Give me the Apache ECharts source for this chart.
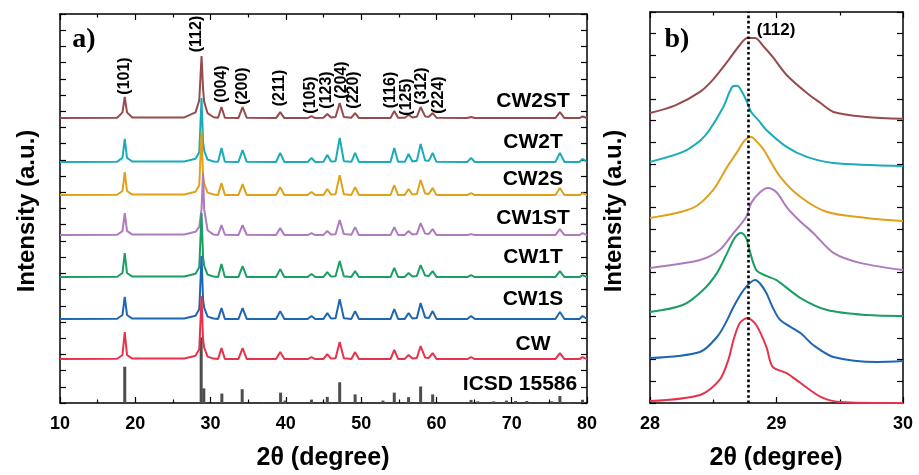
<!DOCTYPE html>
<html><head><meta charset="utf-8">
<script src="https://cdn.jsdelivr.net/npm/echarts@6/dist/echarts.min.js"></script>
<style>html,body{margin:0;padding:0;background:#fff}#c{width:919px;height:475px}</style>
</head><body><div id="c"></div>
<script>
// ---------- data: panel a (full pattern, offset traces in a.u.) ----------
const twoTheta = [10, 17.6, 18.3, 18.6, 18.9, 19.6,
  26.5, 28.0, 28.5, 28.8, 29.0, 29.15, 29.6, 30.4,
  31.0, 31.45, 31.9, 33.7, 34.25, 34.8, 38.7, 39.25, 39.8,
  42.9, 43.4, 43.9, 45.0, 45.5, 46.0, 46.6, 47.15, 47.7,
  48.7, 49.2, 49.7, 53.9, 54.4, 54.9, 55.8, 56.3, 56.8,
  57.4, 57.9, 58.5, 59.0, 59.5, 60.0, 64.1, 64.6, 65.1,
  75.8, 76.4, 77.0, 79.0, 79.4, 80];

const cw2st = [17.58, 17.60, 17.93, 18.88, 17.93, 17.62,
  17.62, 17.93, 18.68, 21.40, 19.40, 18.58, 17.88, 17.63,
  17.60, 18.26, 17.60, 17.58, 18.26, 17.60, 17.58, 17.95, 17.58,
  17.58, 17.70, 17.58, 17.60, 17.83, 17.62, 17.64, 18.51, 17.64,
  17.60, 17.89, 17.58, 17.58, 18.01, 17.60, 17.60, 17.77, 17.62,
  17.66, 18.26, 17.68, 17.66, 17.89, 17.60, 17.58, 17.64, 17.58,
  17.58, 17.95, 17.58, 17.58, 17.68, 17.58];
const cw2t = [14.87, 14.89, 15.12, 16.29, 15.12, 14.90,
  14.90, 15.07, 15.47, 18.82, 16.10, 15.57, 15.02, 14.90,
  14.88, 15.73, 14.88, 14.87, 15.61, 14.88, 14.87, 15.43, 14.87,
  14.87, 15.12, 14.87, 14.88, 15.31, 14.90, 14.92, 16.35, 14.92,
  14.88, 15.43, 14.87, 14.87, 15.73, 14.88, 14.88, 15.37, 14.90,
  14.94, 15.98, 14.96, 14.94, 15.43, 14.88, 14.87, 15.12, 14.87,
  14.87, 15.43, 14.87, 14.87, 15.06, 14.87];
const cw2s = [12.83, 12.85, 13.08, 14.25, 13.08, 12.86,
  12.86, 13.03, 13.43, 16.72, 14.00, 13.53, 12.98, 12.86,
  12.84, 13.57, 12.84, 12.83, 13.51, 12.84, 12.83, 13.32, 12.83,
  12.83, 13.02, 12.83, 12.84, 13.20, 12.86, 12.88, 14.06, 12.88,
  12.84, 13.32, 12.83, 12.83, 13.45, 12.84, 12.84, 13.20, 12.86,
  12.90, 13.76, 12.92, 12.90, 13.26, 12.84, 12.83, 12.95, 12.83,
  12.83, 13.26, 12.83, 12.83, 12.95, 12.83];
const cw1st = [10.36, 10.38, 10.60, 11.72, 10.62, 10.39,
  10.39, 10.56, 10.86, 11.96, 14.18, 11.96, 10.66, 10.39,
  10.37, 10.98, 10.38, 10.36, 10.98, 10.38, 10.36, 10.79, 10.37,
  10.36, 10.48, 10.36, 10.37, 10.61, 10.39, 10.41, 11.29, 10.42,
  10.38, 10.85, 10.36, 10.36, 10.85, 10.37, 10.37, 10.61, 10.39,
  10.43, 11.10, 10.45, 10.43, 10.73, 10.37, 10.36, 10.42, 10.36,
  10.36, 10.73, 10.36, 10.36, 10.48, 10.36];
const cw1t = [7.77, 7.79, 8.02, 9.25, 8.02, 7.80,
  7.80, 7.97, 8.37, 11.72, 9.00, 8.47, 7.92, 7.80,
  7.78, 8.57, 7.78, 7.77, 8.45, 7.78, 7.77, 8.26, 7.77,
  7.77, 7.96, 7.77, 7.78, 8.08, 7.80, 7.82, 8.76, 7.82,
  7.78, 8.14, 7.77, 7.77, 8.33, 7.78, 7.78, 8.02, 7.80,
  7.84, 8.51, 7.86, 7.84, 8.14, 7.78, 7.77, 7.89, 7.77,
  7.77, 8.14, 7.77, 7.77, 7.89, 7.77];
const cw1s = [5.18, 5.20, 5.43, 6.54, 5.43, 5.21,
  5.21, 5.38, 5.78, 9.07, 6.40, 5.88, 5.33, 5.21,
  5.19, 5.86, 5.19, 5.18, 5.86, 5.19, 5.18, 5.67, 5.18,
  5.18, 5.37, 5.18, 5.19, 5.55, 5.21, 5.23, 6.41, 5.23,
  5.19, 5.67, 5.18, 5.18, 5.80, 5.19, 5.19, 5.55, 5.21,
  5.25, 6.17, 5.27, 5.25, 5.67, 5.19, 5.18, 5.37, 5.18,
  5.18, 5.61, 5.18, 5.18, 5.37, 5.18];
const cw = [2.71, 2.73, 2.96, 4.38, 2.96, 2.74,
  2.74, 2.91, 3.31, 6.60, 3.93, 3.41, 2.86, 2.74,
  2.72, 3.39, 2.72, 2.71, 3.39, 2.72, 2.71, 3.14, 2.71,
  2.71, 2.83, 2.71, 2.72, 3.02, 2.74, 2.76, 3.76, 2.76,
  2.72, 3.14, 2.71, 2.71, 3.27, 2.72, 2.72, 2.96, 2.74,
  2.78, 3.51, 2.80, 2.78, 3.08, 2.72, 2.71, 2.83, 2.71,
  2.71, 3.08, 2.71, 2.71, 2.83, 2.71];

const icsdPos = [18.6, 28.75, 29.1, 31.5, 34.2, 37.0, 39.3, 39.9, 43.4, 45.5, 47.15, 49.2, 52.9,
  54.4, 56.3, 57.9, 59.5, 64.6, 65.5, 67.6, 69.3, 70.5, 72.0, 75.3, 76.4, 77.6, 79.4];
const icsdInt = [2.24, 4.05, 0.90, 0.58, 0.85, 0.06, 0.64, 0.15, 0.21, 0.38, 1.28, 0.53, 0.15,
  0.64, 0.36, 1.02, 0.53, 0.19, 0.10, 0.10, 0.15, 0.12, 0.12, 0.10, 0.43, 0.06, 0.20];

const sampleNames = ['CW2ST', 'CW2T', 'CW2S', 'CW1ST', 'CW1T', 'CW1S', 'CW'];
const refName = 'ICSD 15586';
const hklLabels = ['(101)', '(112)', '(004)', '(200)', '(211)', '(105)', '(123)', '(204)', '(220)', '(116)', '(125)', '(312)', '(224)'];

// ---------- data: panel b (zoom on (112)) ----------
const zCW2ST = [[28.0,13.35],[28.2,13.7],[28.395,14.32],[28.5,14.9],[28.61,15.70],[28.71,16.48],[28.77,16.80],[28.83,16.80],[28.9,16.4],[28.97,15.93],[29.08,15.10],[29.24,14.27],[29.35,13.8],[29.45,13.40],[29.71,13.17],[30.0,13.08]];
const zCW2T = [[28.0,11.10],[28.26,11.56],[28.4,12.1],[28.47,12.57],[28.58,13.63],[28.65,14.55],[28.69,14.60],[28.72,14.40],[28.76,13.95],[28.8,13.40],[28.86,13.0],[28.92,12.57],[29.08,11.79],[29.24,11.33],[29.45,11.05],[30.0,10.91]];
const zCW2S = [[28.0,8.52],[28.34,8.98],[28.5,9.81],[28.61,10.87],[28.69,11.56],[28.75,12.1],[28.8,12.25],[28.85,12.0],[28.9,11.65],[29.03,10.41],[29.19,9.48],[29.4,8.79],[29.71,8.52],[30.0,8.38]];
const zCW1ST = [[28.0,6.22],[28.395,6.58],[28.55,7.04],[28.65,7.75],[28.76,8.56],[28.8,9.21],[28.87,9.7],[28.93,9.90],[29.0,9.7],[29.08,9.02],[29.18,8.4],[29.29,7.83],[29.45,6.91],[29.66,6.45],[30.0,6.12]];
const zCW1T = [[28.0,4.19],[28.26,4.51],[28.42,5.20],[28.53,5.99],[28.61,6.91],[28.67,7.6],[28.72,7.83],[28.76,7.6],[28.78,7.18],[28.84,6.12],[28.92,5.85],[29.0,5.66],[29.19,4.83],[29.4,4.28],[29.71,4.05],[30.0,4.01]];
const zCW1S = [[28.0,2.07],[28.395,2.35],[28.53,3.04],[28.6,3.7],[28.66,4.42],[28.74,5.20],[28.83,5.66],[28.87,5.5],[28.92,5.06],[28.97,4.4],[29.03,3.82],[29.19,3.22],[29.29,2.67],[29.45,2.12],[29.8,1.89],[30.0,1.93]];
const zCW = [[28.0,0.09],[28.395,0.37],[28.55,1.06],[28.62,2.0],[28.66,2.90],[28.71,3.68],[28.77,3.91],[28.84,3.59],[28.92,2.58],[28.97,1.66],[29.08,1.38],[29.19,0.92],[29.35,0.28],[29.5,0.05],[30.0,0.0]];
const refPeak = 28.78;

const xTicksA = [10, 20, 30, 40, 50, 60, 70, 80];
const xTicksB = [28, 29, 30];

// ---------- styles / layout ----------
const colors = ['#984B4E', '#19ACB8', '#DFA11B', '#AD7BBE', '#1A9E63', '#1D66B2', '#E6334B'];
const icsdColor = '#4d4d4d';
const FONT = 'Liberation Sans, Arial, sans-serif';
const patterns = [cw2st, cw2t, cw2s, cw1st, cw1t, cw1s, cw];
const zooms = [zCW2ST, zCW2T, zCW2S, zCW1ST, zCW1T, zCW1S, zCW];

const chart = echarts.init(document.getElementById('c'), null, {renderer: 'canvas'});

function ax(type, gridIndex, min, max, interval, position, showLabel, minorSplit) {
  return {
    type: 'value', gridIndex, min, max, interval, position,
    axisLine: {show: true, onZero: false, lineStyle: {color: '#000', width: 1.5}},
    axisTick: {show: true, inside: true, length: 6, lineStyle: {color: '#000', width: 1.2}},
    minorTick: {show: minorSplit > 1, splitNumber: minorSplit || 2, length: 3.5, lineStyle: {color: '#000', width: 1.2}},
    splitLine: {show: false}, minorSplitLine: {show: false},
    axisLabel: {show: showLabel, margin: 12, color: '#000', fontFamily: FONT, fontWeight: 'bold', fontSize: 18}
  };
}

const series = [];
patterns.forEach((p, i) => {
  series.push({
    type: 'line', xAxisIndex: 0, yAxisIndex: 0, name: sampleNames[i],
    data: twoTheta.map((t, k) => [t, p[k]]),
    symbol: 'none', lineStyle: {color: colors[i], width: 2}, z: 3 + i
  });
});
series.push({
  type: 'bar', xAxisIndex: 0, yAxisIndex: 0, name: refName,
  data: icsdPos.map((t, k) => [t, icsdInt[k]]),
  barWidth: 3, itemStyle: {color: icsdColor}, z: 2
});
zooms.forEach((d, i) => {
  const s = {
    type: 'line', xAxisIndex: 2, yAxisIndex: 2, name: sampleNames[i] + ' (112)',
    data: d, symbol: 'none', smooth: 0.3, lineStyle: {color: colors[i], width: 2}, z: 3 + i
  };
  if (i === zooms.length - 1) {
    s.markLine = {silent: true, symbol: 'none', label: {show: false},
      lineStyle: {color: '#000', width: 2.6, type: [2.6, 2.6]},
      data: [{xAxis: refPeak}], z: 20};
  }
  series.push(s);
});

function txt(x, y, text, size, opts) {
  opts = opts || {};
  return {
    type: 'text', x, y, rotation: opts.rot || 0, z: 50,
    style: {text, fill: '#000', font: 'bold ' + size + 'px ' + (opts.serif ? 'Liberation Serif, serif' : FONT),
      textAlign: opts.align || 'center', textVerticalAlign: 'middle'}
  };
}
const hklPos = [[125, 76], [197, 34], [222, 84], [243, 86], [280, 88], [311, 95], [327, 90], [342, 80], [354, 90], [391, 90], [407, 97], [422, 86], [439, 95]];
const labelY = [101, 142, 179, 218, 257, 299, 344];
const graphics = [];
hklLabels.forEach((h, i) => graphics.push(txt(hklPos[i][0], hklPos[i][1], h, 16, {rot: Math.PI / 2})));
sampleNames.forEach((n, i) => graphics.push(txt(533, labelY[i], n, 21)));
graphics.push(txt(520, 384, refName, 21));
graphics.push(txt(84, 40, 'a)', 28, {serif: true}));
graphics.push(txt(677, 40, 'b)', 28, {serif: true}));
graphics.push(txt(776, 30, '(112)', 17));
graphics.push(txt(27, 211, 'Intensity (a.u.)', 24, {rot: Math.PI / 2}));
graphics.push(txt(614, 211, 'Intensity (a.u.)', 24, {rot: Math.PI / 2}));
graphics.push(txt(323, 458, '2\u03b8 (degree)', 25));
graphics.push(txt(776, 458, '2\u03b8 (degree)', 25));

chart.setOption({
  animation: false,
  backgroundColor: '#fff',
  grid: [
    {left: 60, top: 14, width: 527, height: 389},
    {left: 650, top: 12, width: 253, height: 391}
  ],
  xAxis: [
    ax('x', 0, xTicksA[0], xTicksA[xTicksA.length - 1], 10, 'bottom', true, 2),
    ax('x', 0, xTicksA[0], xTicksA[xTicksA.length - 1], 10, 'top', false, 2),
    ax('x', 1, xTicksB[0], xTicksB[xTicksB.length - 1], 1, 'bottom', true, 2),
    ax('x', 1, xTicksB[0], xTicksB[xTicksB.length - 1], 1, 'top', false, 2)
  ],
  yAxis: [
    ax('y', 0, 0, 24, 1, 'left', false, 0),
    ax('y', 0, 0, 24, 1, 'right', false, 0),
    ax('y', 1, 0, 18, 1, 'left', false, 0),
    ax('y', 1, 0, 18, 1, 'right', false, 0)
  ],
  series,
  graphic: graphics
});
</script>
</body></html>
